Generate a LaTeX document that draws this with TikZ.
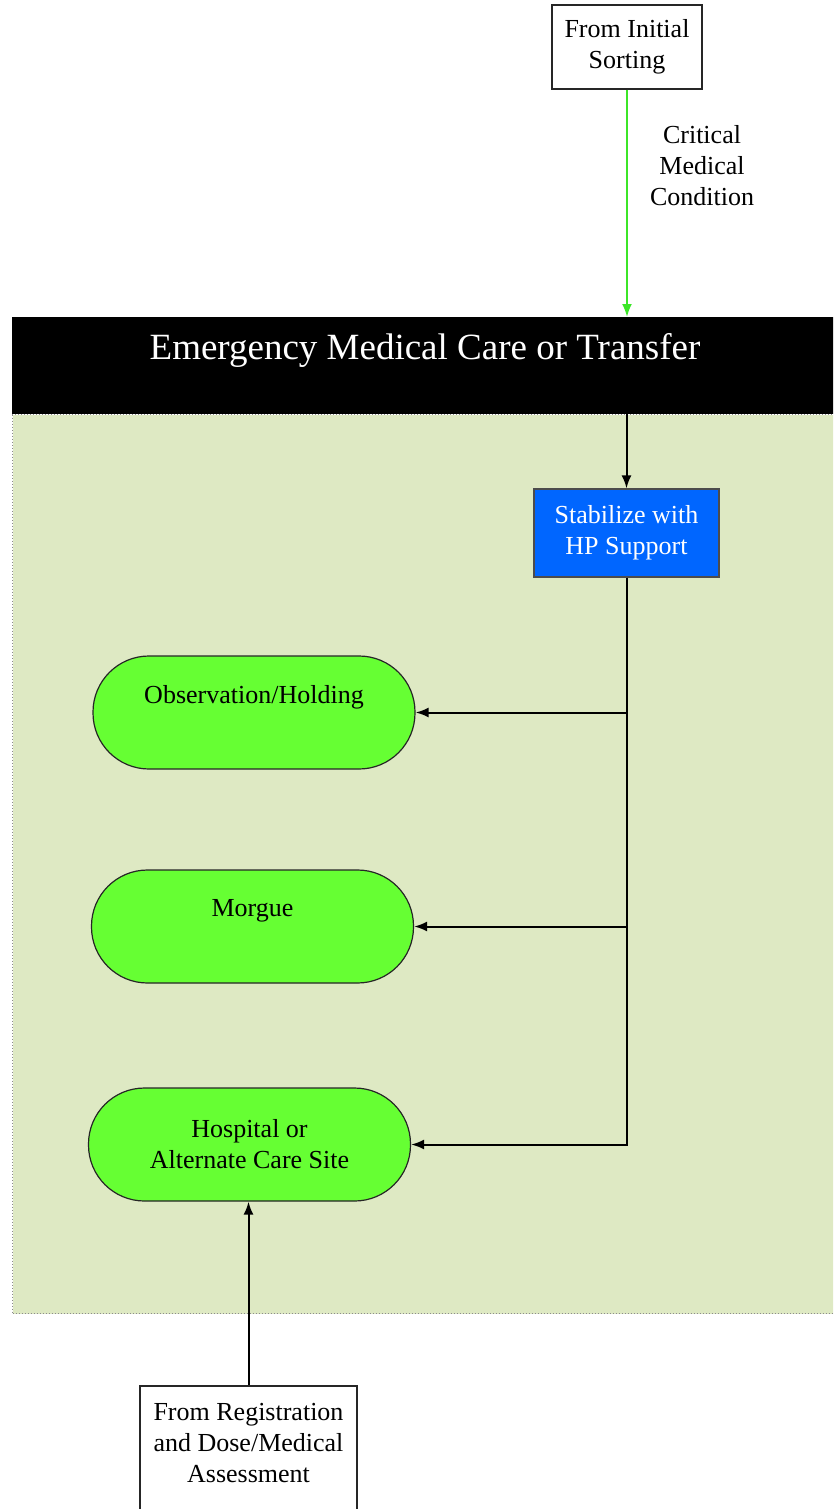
\documentclass[tikz,border=0pt]{standalone}
\usepackage{fontspec}
\setmainfont{Liberation Serif}
\usetikzlibrary{arrows.meta}
\definecolor{panelgreen}{RGB}{222,233,195}
\definecolor{nodegreen}{RGB}{102,255,51}
\definecolor{stabblue}{RGB}{0,102,255}
\definecolor{arrowgreen}{RGB}{60,230,40}
\begin{document}
\begin{tikzpicture}[x=1pt,y=-1pt,
  txt/.style={font=\fontsize{26}{31}\selectfont, align=center, inner sep=0pt},
  srcbox/.style={draw=black!85, line width=1.5pt, fill=white, inner sep=0pt},
  endnode/.style={draw=black!85, line width=1.2pt, fill=nodegreen, rounded corners=56pt, inner sep=0pt, minimum width=322pt, minimum height=113pt},
  conn/.style={line width=2pt, -{Latex[length=13pt,width=10pt]}},
]
\useasboundingbox (0,0) rectangle (833,1509);
\clip (0,0) rectangle (833,1509);
\fill[white] (0,0) rectangle (833,1509);

% panel and header
\node (panel) [fill=panelgreen, draw=black!45, dotted, line width=1pt, minimum width=830pt, minimum height=899pt, anchor=north west, inner sep=0pt] at (12,414) {};
\node (header) [fill=black, minimum width=830pt, minimum height=97pt, anchor=north west, inner sep=0pt] at (12,317) {};
\node (title) [text=white, font=\fontsize{37}{44}\selectfont, inner sep=0pt] at (425,350) {Emergency Medical Care or Transfer};

% top source
\node (sort) [srcbox, txt, minimum width=150pt, minimum height=84pt] at (627,47) {From Initial\\Sorting};
\node (crit) [txt] at (702,166) {Critical\\Medical\\Condition};
\draw[conn, arrowgreen] (sort.south) -- (sort.south |- header.north);

% stabilize
\node (stab) [draw=black!70, line width=1.2pt, fill=stabblue, text=white, txt, minimum width=185pt, minimum height=88pt] at (626.5,533) {Stabilize with\\HP Support};
\draw[conn] (stab.north |- header.south) -- (stab.north);

% end nodes
\node (obs) [endnode] at (254,712.5) {};
\node (obstxt) [txt] at (254,697) {Observation/Holding};
\node (morg) [endnode] at (252.5,926.5) {};
\node (morgtxt) [txt] at (252.5,911) {Morgue};
\node (hosp) [endnode, txt] at (249.5,1144.5) {Hospital or\\Alternate Care Site};

% branches
\draw[conn] (stab.south) -- (stab.south |- hosp.east) -- (hosp.east);
\draw[conn] (stab.south |- obs.east) -- (obs.east);
\draw[conn] (stab.south |- morg.east) -- (morg.east);

% bottom source
\node (reg) [srcbox, minimum width=217pt, minimum height=150pt, anchor=north] at (248.5,1385) {};
\node (regtxt) [txt] at (248.5,1443) {From Registration\\and Dose/Medical\\Assessment};
\draw[conn] (reg.north) -- (reg.north |- hosp.south);
\end{tikzpicture}
\end{document}
